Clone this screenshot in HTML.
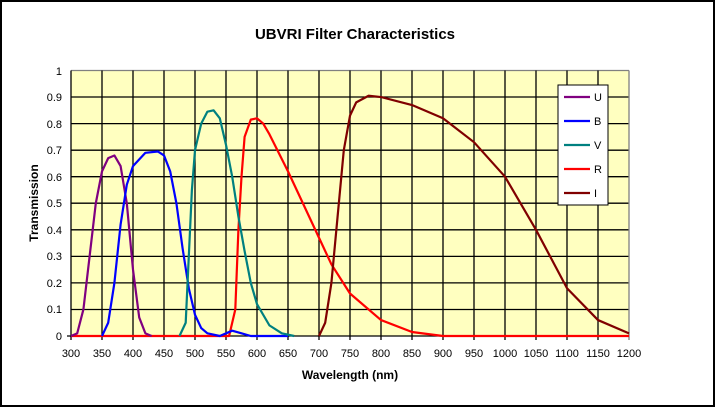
<!DOCTYPE html>
<html><head><meta charset="utf-8"><style>
body{margin:0;background:#fff}
svg{display:block;font-family:"Liberation Sans",Arial,sans-serif}
</style></head><body>
<svg width="716" height="408" viewBox="0 0 716 408">
<rect x="1" y="1" width="713" height="405" fill="#fff" stroke="#000" stroke-width="2"/>
<text x="355" y="39" font-size="15" font-weight="bold" text-anchor="middle">UBVRI Filter Characteristics</text>
<rect x="71" y="70.5" width="558" height="265.5" fill="#ffffc0"/>
<g stroke="#000" stroke-width="1.3">
<line x1="71" y1="70.5" x2="629" y2="70.5" stroke="#808080"/>
<line x1="71" y1="97" x2="629" y2="97"/><line x1="71" y1="123.6" x2="629" y2="123.6"/>
<line x1="71" y1="150.2" x2="629" y2="150.2"/><line x1="71" y1="176.7" x2="629" y2="176.7"/>
<line x1="71" y1="203.2" x2="629" y2="203.2"/><line x1="71" y1="229.8" x2="629" y2="229.8"/>
<line x1="71" y1="256.4" x2="629" y2="256.4"/><line x1="71" y1="282.9" x2="629" y2="282.9"/>
<line x1="71" y1="309.5" x2="629" y2="309.5"/>
<line x1="102" y1="70.5" x2="102" y2="340"/><line x1="133" y1="70.5" x2="133" y2="340"/>
<line x1="164" y1="70.5" x2="164" y2="340"/><line x1="195" y1="70.5" x2="195" y2="340"/>
<line x1="226" y1="70.5" x2="226" y2="340"/><line x1="257" y1="70.5" x2="257" y2="340"/>
<line x1="288" y1="70.5" x2="288" y2="340"/><line x1="319" y1="70.5" x2="319" y2="340"/>
<line x1="350" y1="70.5" x2="350" y2="340"/><line x1="381" y1="70.5" x2="381" y2="340"/>
<line x1="412" y1="70.5" x2="412" y2="340"/><line x1="443" y1="70.5" x2="443" y2="340"/>
<line x1="474" y1="70.5" x2="474" y2="340"/><line x1="505" y1="70.5" x2="505" y2="340"/>
<line x1="536" y1="70.5" x2="536" y2="340"/><line x1="567" y1="70.5" x2="567" y2="340"/>
<line x1="598" y1="70.5" x2="598" y2="340"/>
<line x1="629" y1="70.5" x2="629" y2="340" stroke="#808080"/>
<line x1="71" y1="70.5" x2="71" y2="340"/><line x1="67" y1="336" x2="629" y2="336"/>
</g>
<g font-size="11" text-anchor="end">
<text x="62" y="75">1</text><text x="62" y="101">0.9</text><text x="62" y="128">0.8</text>
<text x="62" y="154">0.7</text><text x="62" y="181">0.6</text><text x="62" y="207">0.5</text>
<text x="62" y="234">0.4</text><text x="62" y="260">0.3</text><text x="62" y="287">0.2</text>
<text x="62" y="313">0.1</text><text x="62" y="340">0</text>
</g>
<g font-size="11" text-anchor="middle">
<text x="71" y="357">300</text><text x="102" y="357">350</text><text x="133" y="357">400</text>
<text x="164" y="357">450</text><text x="195" y="357">500</text><text x="226" y="357">550</text>
<text x="257" y="357">600</text><text x="288" y="357">650</text><text x="319" y="357">700</text>
<text x="350" y="357">750</text><text x="381" y="357">800</text><text x="412" y="357">850</text>
<text x="443" y="357">900</text><text x="474" y="357">950</text><text x="505" y="357">1000</text>
<text x="536" y="357">1050</text><text x="567" y="357">1100</text><text x="598" y="357">1150</text>
<text x="629" y="357">1200</text>
</g>
<text x="350" y="379" font-size="12" font-weight="bold" text-anchor="middle">Wavelength (nm)</text>
<text transform="translate(38,203) rotate(-90)" font-size="12" font-weight="bold" text-anchor="middle">Transmission</text>
<g transform="translate(71,336) scale(0.62,-265.5)" fill="none" stroke-width="2.2" stroke-linejoin="round">
<polyline vector-effect="non-scaling-stroke" stroke="#ff0000" points="0,0 255,0 265,0.1 270,0.4 275,0.6 280,0.75 290,0.815 300,0.82 310,0.8 320,0.76 350,0.62 400,0.37 420,0.27 450,0.16 500,0.06 550,0.015 600,0 900,0"/>
<polyline vector-effect="non-scaling-stroke" stroke="#800080" points="0,0 10,0.01 20,0.1 30,0.3 40,0.5 50,0.62 60,0.67 70,0.68 80,0.64 90,0.5 100,0.25 110,0.07 120,0.01 130,0"/>
<polyline vector-effect="non-scaling-stroke" stroke="#0000ff" points="50,0 60,0.05 70,0.2 80,0.42 90,0.57 100,0.64 120,0.69 140,0.695 150,0.68 160,0.62 170,0.5 180,0.33 190,0.18 200,0.08 210,0.03 220,0.01 240,0 260,0.02 275,0.01 290,0 350,0"/>
<polyline vector-effect="non-scaling-stroke" stroke="#008080" points="175,0 185,0.05 190,0.3 195,0.55 200,0.7 210,0.8 220,0.845 230,0.85 240,0.82 250,0.72 260,0.6 270,0.45 280,0.32 290,0.2 300,0.12 320,0.04 340,0.01 360,0"/>
<polyline vector-effect="non-scaling-stroke" stroke="#800000" points="400,0 410,0.05 420,0.2 430,0.45 440,0.7 450,0.83 460,0.88 480,0.905 500,0.9 550,0.87 600,0.82 650,0.73 700,0.6 750,0.4 800,0.18 850,0.06 900,0.01"/>
</g>
<rect x="558" y="85" width="50" height="120" fill="#fff" stroke="#000"/>
<g stroke-width="2.2">
<line x1="564" y1="97" x2="590" y2="97" stroke="#800080"/>
<line x1="564" y1="121" x2="590" y2="121" stroke="#0000ff"/>
<line x1="564" y1="145" x2="590" y2="145" stroke="#008080"/>
<line x1="564" y1="169" x2="590" y2="169" stroke="#ff0000"/>
<line x1="564" y1="193" x2="590" y2="193" stroke="#800000"/>
</g>
<g font-size="11"><text x="594" y="101">U</text><text x="594" y="125">B</text><text x="594" y="149">V</text><text x="594" y="173">R</text><text x="594" y="197">I</text></g>
</svg>
</body></html>
